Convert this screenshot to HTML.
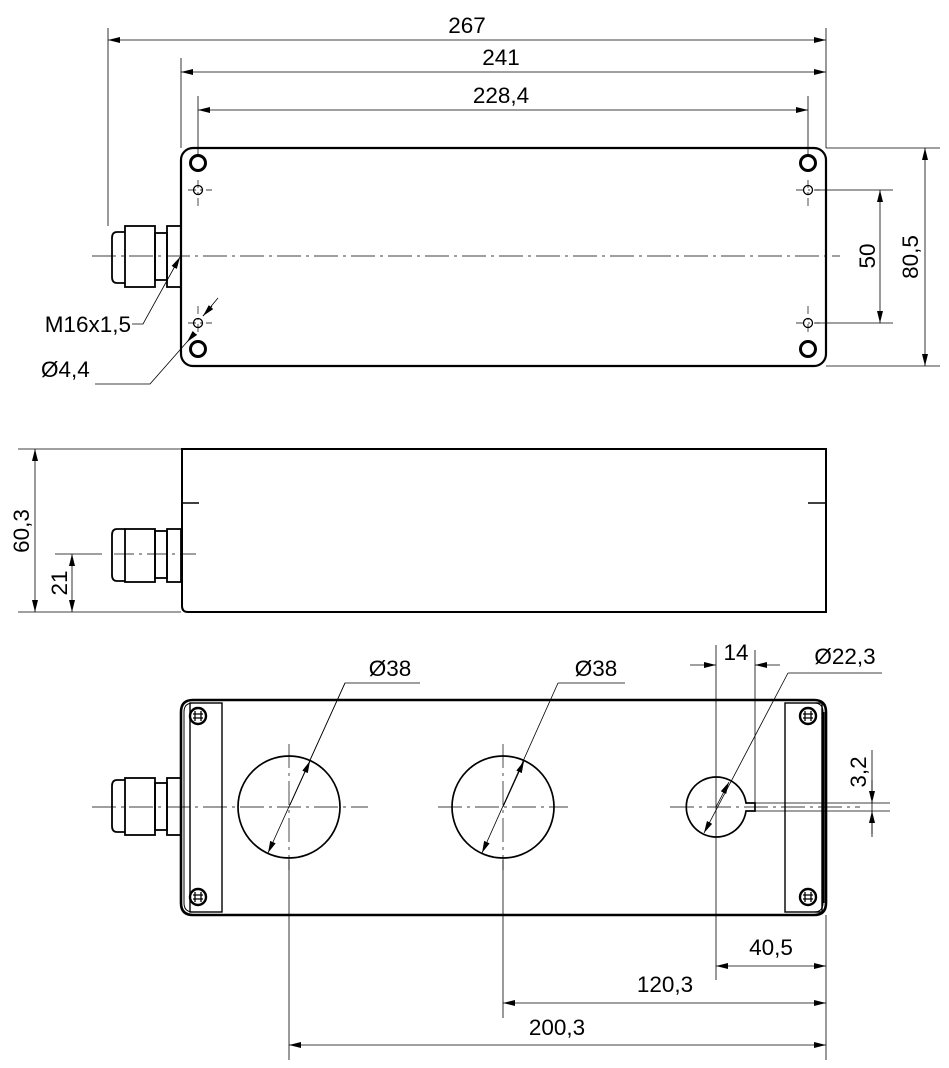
<!DOCTYPE html>
<html><head><meta charset="utf-8"><style>
html,body{margin:0;padding:0;background:#fff}
svg{display:block}
text{font-family:"Liberation Sans",sans-serif;font-size:22.5px;fill:#000}
</style></head><body>
<svg width="949" height="1068" viewBox="0 0 949 1068" xmlns="http://www.w3.org/2000/svg">
<defs>
<marker id="a" viewBox="0 0 12 6" refX="12" refY="3" markerWidth="12" markerHeight="6" orient="auto-start-reverse" markerUnits="userSpaceOnUse"><path d="M0,0 L12,3 L0,6 z" fill="#000"/></marker>
</defs>
<g fill="none" stroke="#000">
<!-- ===== TOP VIEW ===== -->
<g stroke-width="0.8">
<line x1="108" y1="28" x2="108" y2="226"/>
<line x1="181" y1="58" x2="181" y2="148"/>
<line x1="826" y1="28" x2="826" y2="148"/>
<line x1="198" y1="96" x2="198" y2="155"/>
<line x1="808" y1="96" x2="808" y2="155"/>
<line x1="108" y1="40" x2="826" y2="40" marker-start="url(#a)" marker-end="url(#a)"/>
<line x1="181" y1="72" x2="826" y2="72" marker-start="url(#a)" marker-end="url(#a)"/>
<line x1="198" y1="110" x2="808" y2="110" marker-start="url(#a)" marker-end="url(#a)"/>
<line x1="826" y1="148" x2="940" y2="148"/>
<line x1="826" y1="366" x2="940" y2="366"/>
<line x1="815" y1="190" x2="893" y2="190"/>
<line x1="815" y1="323" x2="893" y2="323"/>
<line x1="880" y1="190" x2="880" y2="323" marker-start="url(#a)" marker-end="url(#a)"/>
<line x1="925" y1="148" x2="925" y2="366" marker-start="url(#a)" marker-end="url(#a)"/>
<polyline points="132,324 143,324 180,257" marker-end="url(#a)"/>
<polyline points="95,384 150,384 194,334"/>
<line x1="194" y1="334" x2="187" y2="342" marker-end="url(#a)"/>
<line x1="218" y1="298" x2="203" y2="316"/>
<line x1="212" y1="306" x2="203" y2="316" marker-end="url(#a)"/>
</g>
<rect x="181" y="148" width="645" height="218" rx="12" stroke-width="2.2"/>
<g stroke-width="3">
<circle cx="198" cy="163" r="7.5"/><circle cx="808" cy="163" r="7.5"/>
<circle cx="198" cy="349" r="7.5"/><circle cx="808" cy="349" r="7.5"/>
</g>
<g stroke-width="1.3">
<circle cx="198" cy="190" r="4.5"/><circle cx="808" cy="190" r="4.5"/>
<circle cx="198" cy="323" r="4.5"/><circle cx="808" cy="323" r="4.5"/>
</g>
<g stroke-width="0.7" stroke-dasharray="8,4,2,4">
<line x1="188" y1="190" x2="212" y2="190"/><line x1="198" y1="180" x2="198" y2="208"/>
<line x1="796" y1="190" x2="820" y2="190"/><line x1="808" y1="180" x2="808" y2="208"/>
<line x1="188" y1="323" x2="212" y2="323"/><line x1="198" y1="306" x2="198" y2="333"/>
<line x1="796" y1="323" x2="820" y2="323"/><line x1="808" y1="306" x2="808" y2="333"/>
<line x1="92" y1="256" x2="840" y2="256" stroke-dasharray="24,5,3,5"/>
</g>
<g stroke-width="1.8">
<path d="M125,232 H117 Q112,232 112,238 V277 Q112,283 117,283 H125"/>
<rect x="125" y="226" width="30" height="61"/>
<rect x="155" y="233" width="12" height="47"/>
<rect x="167" y="226" width="14" height="61"/>
</g>

<!-- ===== SIDE VIEW ===== -->
<g stroke-width="0.8">
<line x1="18" y1="449" x2="181" y2="449"/>
<line x1="18" y1="612" x2="181" y2="612"/>
<line x1="35" y1="449" x2="35" y2="612" marker-start="url(#a)" marker-end="url(#a)"/>
<line x1="72" y1="554" x2="72" y2="612" marker-start="url(#a)" marker-end="url(#a)"/>
<line x1="55" y1="554" x2="102" y2="554"/>
</g>
<line x1="114" y1="554" x2="196" y2="554" stroke-width="0.7" stroke-dasharray="20,5,3,5"/>
<path d="M182,449 H826 V612 H188 Q182,612 182,606 Z" stroke-width="2"/>
<line x1="182" y1="503" x2="199" y2="503" stroke-width="1.6"/>
<line x1="808" y1="503" x2="826" y2="503" stroke-width="1.6"/>
<g stroke-width="1.8">
<path d="M125,529 H117 Q112,529 112,535 V575 Q112,581 117,581 H125"/>
<rect x="125" y="529" width="30" height="53"/>
<rect x="155" y="531" width="12" height="47"/>
<rect x="167" y="529" width="14" height="53"/>
</g>

<!-- ===== BOTTOM VIEW ===== -->
<path d="M193,700 H814 Q826,700 826,712 V903 Q826,915 814,915 H193 Q181,915 181,903 V712 Q181,700 193,700 Z" stroke-width="2.6"/>
<path d="M193,703 Q184,703 184,712 V903 Q184,912 193,912" stroke-width="1"/>
<path d="M814,703 Q823,703 823,712 V903 Q823,912 814,912" stroke-width="1"/>
<rect x="190" y="703" width="32" height="209" stroke-width="1.4"/>
<rect x="785" y="703" width="37" height="209" stroke-width="1.4"/>
<line x1="823" y1="712" x2="823" y2="903" stroke-width="3"/>
<g stroke-width="2.4">
<circle cx="198" cy="716" r="8"/><circle cx="198" cy="897" r="8"/>
<circle cx="808" cy="716" r="8"/><circle cx="808" cy="897" r="8"/>
</g>
<g stroke-width="1.3">
<path d="M195,711 v10 M201,711 v10 M193,714 h10 M193,718 h10"/>
<path d="M195,892 v10 M201,892 v10 M193,895 h10 M193,899 h10"/>
<path d="M805,711 v10 M811,711 v10 M803,714 h10 M803,718 h10"/>
<path d="M805,892 v10 M811,892 v10 M803,895 h10 M803,899 h10"/>
</g>
<g stroke-width="1.8">
<path d="M125,780 H117 Q112,780 112,786 V826 Q112,832 117,832 H125"/>
<rect x="125" y="778" width="30" height="57"/>
<rect x="155" y="783" width="12" height="47"/>
<rect x="167" y="778" width="14" height="57"/>
</g>
<g stroke-width="1.7">
<circle cx="289" cy="807" r="51"/>
<circle cx="503" cy="807" r="51"/>
<path d="M746,811 A30,30 0 1 1 746,803 H755 V811 Z"/>
</g>
<g stroke-width="0.7" stroke-dasharray="24,5,3,5">
<line x1="92" y1="807" x2="368" y2="807"/>
<line x1="438" y1="807" x2="568" y2="807"/>
<line x1="670" y1="807" x2="860" y2="807"/>
<line x1="289" y1="744" x2="289" y2="870"/>
<line x1="503" y1="744" x2="503" y2="870"/>
</g>
<g stroke-width="0.8">
<line x1="289" y1="860" x2="289" y2="1060"/>
<line x1="503" y1="860" x2="503" y2="1018"/>
<line x1="716" y1="645" x2="716" y2="980"/>
<line x1="755" y1="650" x2="755" y2="803"/>
<line x1="826" y1="915" x2="826" y2="1060"/>
<line x1="716" y1="966" x2="826" y2="966" marker-start="url(#a)" marker-end="url(#a)"/>
<line x1="503" y1="1003" x2="826" y2="1003" marker-start="url(#a)" marker-end="url(#a)"/>
<line x1="289" y1="1045" x2="826" y2="1045" marker-start="url(#a)" marker-end="url(#a)"/>
<line x1="690" y1="665" x2="716" y2="665" marker-end="url(#a)"/>
<line x1="780" y1="665" x2="755" y2="665" marker-end="url(#a)"/>
<line x1="755" y1="803" x2="890" y2="803"/>
<line x1="755" y1="811" x2="890" y2="811"/>
<line x1="872" y1="750" x2="872" y2="837"/>
<line x1="872" y1="780" x2="872" y2="803" marker-end="url(#a)"/>
<line x1="872" y1="834" x2="872" y2="811" marker-end="url(#a)"/>
<polyline points="420,683 345,683 310,760"/>
<line x1="345" y1="683" x2="268" y2="853" marker-end="url(#a)"/>
<line x1="290" y1="805" x2="310" y2="761" marker-end="url(#a)"/>
<polyline points="625,683 558,683"/>
<line x1="558" y1="683" x2="482" y2="853" marker-end="url(#a)"/>
<line x1="503" y1="807" x2="524" y2="761" marker-end="url(#a)"/>
<polyline points="882,673 788,673"/>
<line x1="788" y1="673" x2="704" y2="833" marker-end="url(#a)"/>
<line x1="716" y1="807" x2="729" y2="782" marker-end="url(#a)"/>
</g>
</g>
<text x="467" y="33" text-anchor="middle">267</text>
<text x="501" y="65" text-anchor="middle">241</text>
<text x="501" y="103" text-anchor="middle">228,4</text>
<text x="131" y="332" text-anchor="end">M16x1,5</text>
<text x="41" y="377">Ø4,4</text>
<text transform="translate(875,256) rotate(-90)" text-anchor="middle">50</text>
<text transform="translate(918,257) rotate(-90)" text-anchor="middle">80,5</text>
<text transform="translate(29,531) rotate(-90)" text-anchor="middle">60,3</text>
<text transform="translate(67,583) rotate(-90)" text-anchor="middle">21</text>
<text x="390" y="676" text-anchor="middle">Ø38</text>
<text x="596" y="676" text-anchor="middle">Ø38</text>
<text x="736" y="660" text-anchor="middle">14</text>
<text x="845" y="664" text-anchor="middle">Ø22,3</text>
<text transform="translate(866,772) rotate(-90)" text-anchor="middle">3,2</text>
<text x="771" y="955" text-anchor="middle">40,5</text>
<text x="665" y="992" text-anchor="middle">120,3</text>
<text x="557" y="1035" text-anchor="middle">200,3</text>
</svg>
</body></html>
